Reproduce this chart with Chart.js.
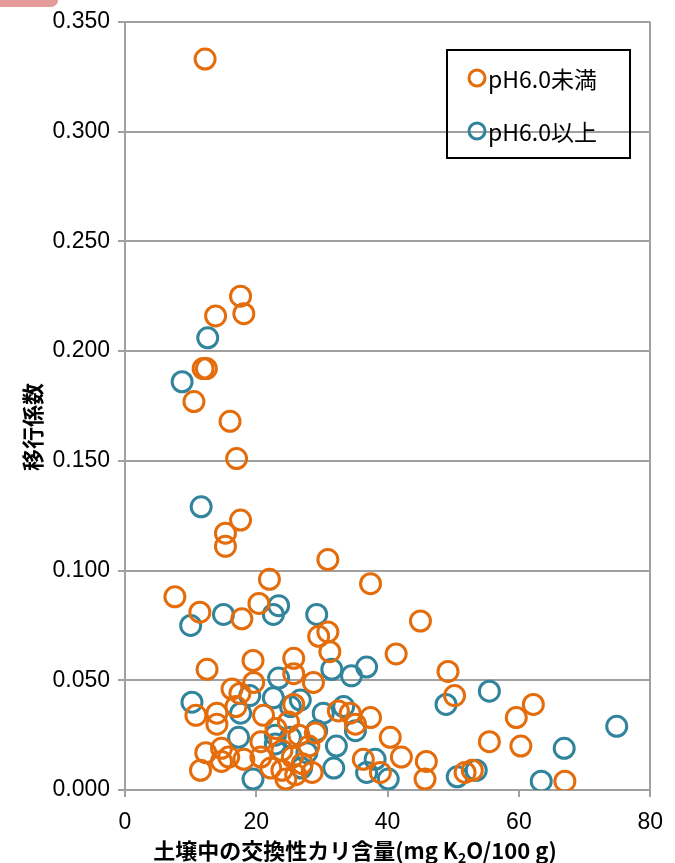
<!DOCTYPE html>
<html>
<head>
<meta charset="utf-8">
<script src="https://cdn.jsdelivr.net/npm/chart.js@4"></script>
<style>
  body{margin:0;background:#fff;}
  #wrap{position:relative;width:675px;height:863px;}
  #tab{position:absolute;left:0;top:0;width:58px;height:7px;background:#e59a9a;border-radius:0 0 8px 0;}
</style>
</head>
<body>
<div id="wrap">
  <canvas id="chart" width="675" height="863"></canvas>
  <div id="tab"></div>
</div>
<script>
// pH6.0未満
const lowX = [12.2,17.6,18.1,13.8,11.9,12.4,10.5,16.0,17.0,17.6,15.3,15.3,30.9,22.0,37.4,7.6,20.4,11.4,17.8,45.0,
  30.9,29.5,31.2,41.3,25.7,19.5,12.5,49.2,25.7,28.7,19.6,16.3,17.5,50.2,10.8,14.0,14.0,16.9,21.1,24.9,
  25.7,62.2,59.6,37.4,32.5,34.3,35.1,29.0,40.4,20.7,55.5,60.3,12.3,14.7,23.9,15.8,18.1,20.7,42.1,36.3,
  45.9,14.7,11.5,22.2,23.9,24.5,26.0,27.0,25.5,28.0,26.5,23.0,38.9,51.8,52.9,45.7,67.0,28.5];
const lowY = [0.333,0.225,0.217,0.216,0.192,0.192,0.177,0.168,0.151,0.123,0.117,0.111,0.105,0.096,0.094,0.088,0.085,0.081,0.078,0.077,
  0.072,0.070,0.063,0.062,0.060,0.059,0.055,0.054,0.053,0.049,0.049,0.046,0.044,0.043,0.034,0.035,0.030,0.038,0.034,0.031,
  0.039,0.039,0.033,0.033,0.036,0.035,0.030,0.026,0.024,0.022,0.022,0.020,0.017,0.019,0.018,0.015,0.014,0.015,0.015,0.014,
  0.013,0.013,0.009,0.010,0.009,0.005,0.007,0.012,0.015,0.020,0.025,0.028,0.008,0.008,0.009,0.005,0.004,0.008];
// pH6.0以上
const highX = [12.6,8.7,11.6,10.0,15.0,23.4,22.6,29.2,31.5,36.8,34.5,23.4,55.5,10.2,48.9,19.0,22.6,33.3,26.7,25.2,
  30.2,17.6,17.3,22.9,22.9,29.2,25.2,27.7,32.2,35.1,74.9,66.9,38.1,36.8,31.8,26.9,19.5,40.1,50.6,53.5,63.4];
const highY = [0.206,0.186,0.129,0.075,0.080,0.084,0.080,0.080,0.055,0.056,0.052,0.051,0.045,0.040,0.039,0.043,0.042,0.038,0.041,0.038,
  0.035,0.035,0.024,0.025,0.021,0.027,0.024,0.017,0.020,0.027,0.029,0.019,0.014,0.008,0.010,0.010,0.005,0.005,0.006,0.009,0.004];

const seriesNames = ["pH6.0未満","pH6.0以上"];
const xTitle = ["土壌中の交換性カリ含量(mg K","2","O/100 g)"];
const yTitle = "移行係数";

const orange = "#e46c0a", teal = "#31849b", grid = "#a0a0a0";
const pts = (xs, ys) => xs.map((x, i) => ({x: x, y: ys[i]}));

const titles = {
  id: "titles",
  afterDraw(chart) {
    const c = chart.ctx;
    c.save();
    c.fillStyle = "#000";
    // y title
    c.font = "bold 22px 'Noto Sans CJK JP'";
    c.translate(33, 427);
    c.rotate(-Math.PI / 2);
    c.textAlign = "center";
    c.textBaseline = "middle";
    c.fillText(yTitle, 0, 0);
    c.restore();
    // x title with subscript
    c.save();
    c.fillStyle = "#000";
    c.textBaseline = "alphabetic";
    const big = "bold 22px 'Noto Sans CJK JP'", small = "bold 14px 'Noto Sans CJK JP'";
    c.font = big; const w0 = c.measureText(xTitle[0]).width, w2 = c.measureText(xTitle[2]).width;
    c.font = small; const w1 = c.measureText(xTitle[1]).width;
    let x = 355 - (w0 + w1 + w2) / 2, y = 859;
    c.font = big; c.fillText(xTitle[0], x, y); x += w0;
    c.font = small; c.fillText(xTitle[1], x, y + 4); x += w1;
    c.font = big; c.fillText(xTitle[2], x, y);
    // legend box
    c.lineWidth = 2;
    c.strokeStyle = "#000";
    c.strokeRect(447, 50, 183, 108);
    c.font = "23px 'Noto Sans CJK JP'";
    c.textBaseline = "middle";
    chart.data.datasets.forEach((ds, i) => {
      const ly = 78 + i * 53;
      c.beginPath();
      c.lineWidth = 3;
      c.strokeStyle = ds.borderColor;
      c.arc(477, ly, 8, 0, Math.PI * 2);
      c.stroke();
      c.fillStyle = "#000";
      c.fillText(ds.label, 488, ly + 1);
    });
    c.restore();
  }
};

new Chart(document.getElementById("chart"), {
  type: "scatter",
  data: {
    datasets: [
      {label: seriesNames[0], data: pts(lowX, lowY), borderColor: orange, backgroundColor: "rgba(0,0,0,0)",
       pointRadius: 10, pointBorderWidth: 3, pointHoverRadius: 10},
      {label: seriesNames[1], data: pts(highX, highY), borderColor: teal, backgroundColor: "rgba(0,0,0,0)",
       pointRadius: 10, pointBorderWidth: 3, pointHoverRadius: 10}
    ]
  },
  options: {
    responsive: false,
    animation: false,
    layout: {padding: {top: 20, right: 24, left: 0, bottom: 0}},
    plugins: {legend: {display: false}, tooltip: {enabled: false}},
    scales: {
      x: {
        min: 0, max: 80,
        ticks: {stepSize: 20, color: "#000", font: {size: 23, family: "'Liberation Sans'"}, padding: 12},
        grid: {color: c => c.tick && c.tick.value === 80 ? grid : "rgba(0,0,0,0)", tickColor: grid, tickLength: 7, lineWidth: 2},
        border: {color: grid, width: 2},
        afterFit: s => { s.height = 73; }
      },
      y: {
        min: 0, max: 0.35,
        ticks: {stepSize: 0.05, color: "#000", font: {size: 23, family: "'Liberation Sans'"}, padding: 8,
          callback: v => v.toFixed(3)},
        grid: {color: grid, tickColor: grid, tickLength: 7, lineWidth: 2},
        border: {color: grid, width: 2},
        afterFit: s => { s.width = 125; }
      }
    }
  },
  plugins: [titles]
});
</script>
</body>
</html>
